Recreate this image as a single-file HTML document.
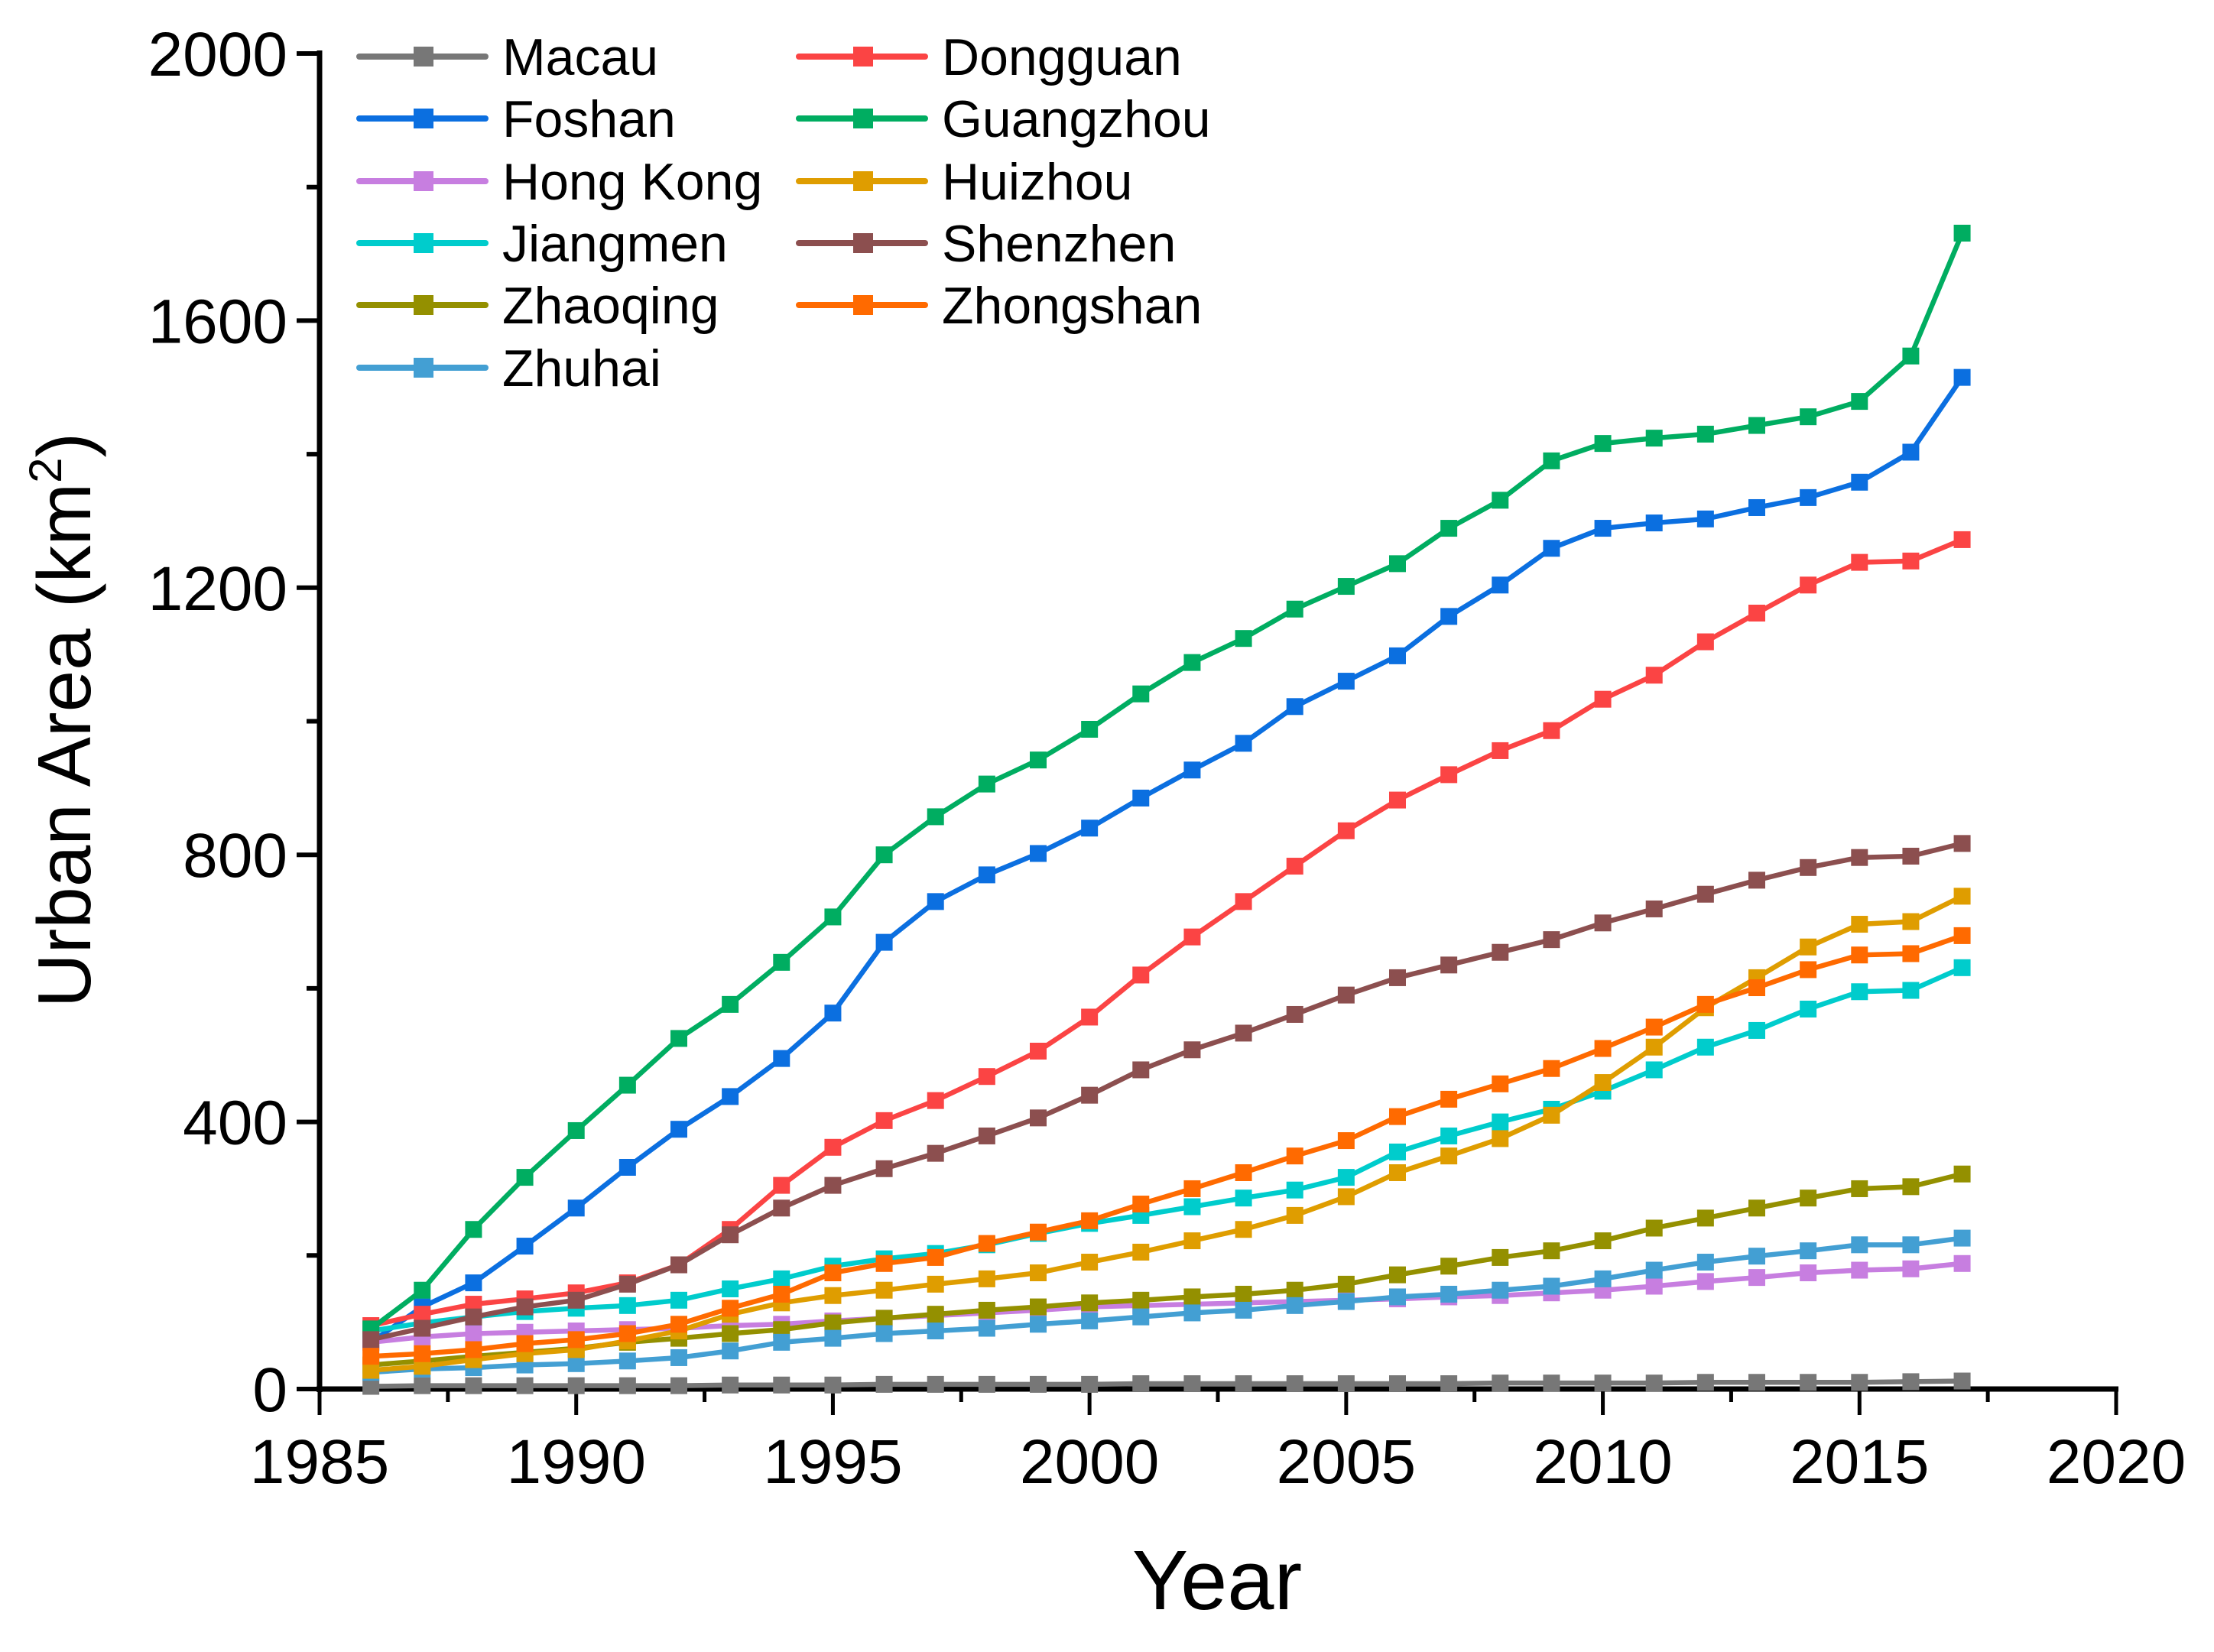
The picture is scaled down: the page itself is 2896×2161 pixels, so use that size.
<!DOCTYPE html>
<html><head><meta charset="utf-8"><style>
html,body{margin:0;padding:0;background:#fff}
svg{display:block;font-family:"Liberation Sans",Arial,sans-serif}
</style></head><body>
<svg id="chart" width="2896" height="2161" viewBox="0 0 2896 2161" xmlns="http://www.w3.org/2000/svg">
<g id="axes"></g>
<g id="series"></g>
<g id="legend"></g>
<text x="1592" y="2105" font-size="110" text-anchor="middle">Year</text>
<text transform="translate(118,942) rotate(-90)" font-size="98" text-anchor="middle">Urban Area (km<tspan font-size="60" dy="-38">2</tspan><tspan dy="38">)</tspan></text>
</svg>
<script>
const years = [1986,1987,1988,1989,1990,1991,1992,1993,1994,1995,1996,1997,1998,1999,2000,2001,2002,2003,2004,2005,2006,2007,2008,2009,2010,2011,2012,2013,2014,2015,2016,2017];
const seriesNames = ["Macau","Foshan","Hong Kong","Jiangmen","Zhaoqing","Zhuhai","Dongguan","Guangzhou","Huizhou","Shenzhen","Zhongshan"];
const seriesColors = ["#777777","#0b6fe0","#c77ee0","#00cccc","#949000","#439fd3","#fb4444","#00ad61","#df9d00","#8c4f4f","#ff6a00"];
const macau = [4,5,5,5,5,5,5,6,6,6,7,7,7,7,7,8,8,8,8,8,8,8,9,9,9,9,10,10,10,10,11,12];
const foshan = [70,123,159,214,271,332,389,438,495,563,669,730,770,802,840,885,927,967,1022,1060,1098,1157,1204,1259,1289,1297,1303,1320,1335,1358,1403,1515];
const hongKong = [70,78,83,85,87,89,91,95,97,102,106,110,114,118,123,125,127,129,131,133,135,138,140,144,148,154,161,167,174,178,180,188];
const jiangmen = [87,99,108,116,121,125,133,150,165,184,195,203,216,233,248,260,273,286,298,317,355,379,400,419,446,478,512,537,569,595,597,631];
const zhaoqing = [36,42,49,55,61,70,76,83,89,99,106,112,118,123,129,133,138,142,148,157,171,184,197,207,222,241,256,271,286,300,303,322];
const zhuhai = [25,30,32,36,38,42,47,57,70,76,83,87,91,97,102,108,114,118,125,131,138,142,148,154,165,178,190,199,207,216,216,226];
const dongguan = [95,112,127,135,144,159,186,239,305,362,402,432,468,506,557,620,677,730,783,836,882,920,956,986,1033,1069,1119,1162,1204,1238,1240,1272];
const guangzhou = [90,148,239,317,387,455,525,576,639,707,800,857,906,942,988,1041,1088,1124,1168,1202,1236,1289,1331,1390,1416,1424,1430,1443,1456,1479,1547,1731];
const huizhou = [28,34,44,53,59,72,87,112,129,140,148,157,165,174,190,205,222,239,260,288,324,349,375,410,459,512,571,616,662,696,700,738];
const shenzhen = [74,91,108,123,133,157,186,231,271,305,330,353,379,406,440,478,508,533,561,590,616,635,654,673,698,719,741,762,781,796,798,817];
const zhongshan = [49,53,59,68,74,83,97,121,142,174,188,197,218,235,252,277,300,324,349,372,408,434,457,480,510,542,576,601,628,650,652,679];
const xTicks = [1985,1990,1995,2000,2005,2010,2015,2020];
const yTicks = [0,400,800,1200,1600,2000];
const allSeries = [macau,foshan,hongKong,jiangmen,zhaoqing,zhuhai,dongguan,guangzhou,huizhou,shenzhen,zhongshan];

const NS="http://www.w3.org/2000/svg";
const X0=418,X1=2768,Y0=1817,Y1=70;
function xs(v){return X0+(v-1985)/(2020-1985)*(X1-X0);}
function ys(v){return Y0-(v-0)/(2000-0)*(Y0-Y1);}
function mk(tag,attrs,parent){const e=document.createElementNS(NS,tag);for(const k in attrs)e.setAttribute(k,attrs[k]);parent.appendChild(e);return e;}

const axes=document.getElementById('axes');
let e;
e=mk('line',{x1:X0,y1:Y1-4,x2:X0,y2:Y0+4,stroke:'#000','stroke-width':7},axes);


e=mk('line',{x1:X0-4,y1:Y0,x2:X1+3,y2:Y0,stroke:'#000','stroke-width':7},axes);


for(let v=0;v<=2000;v+=200){
  const major=v%400===0;
  e=mk('line',{x1:X0-(major?30:17),y1:ys(v),x2:X0,y2:ys(v),stroke:'#000','stroke-width':6},axes);
  
  
}
yTicks.forEach(v=>{
  e=mk('text',{x:X0-42,y:ys(v)+29,'font-size':82,'text-anchor':'end'},axes);
  e.textContent=v;
  
  
});
for(let v=1985;v<=2020;v+=2.5){
  const major=v%5===0;
  e=mk('line',{x1:xs(v),y1:Y0,x2:xs(v),y2:Y0+(major?34:17),stroke:'#000','stroke-width':5},axes);
  
  
}
xTicks.forEach(v=>{
  e=mk('text',{x:xs(v),y:1940,'font-size':82,'text-anchor':'middle'},axes);
  e.textContent=v;
  
  
});

const sg=document.getElementById('series');
allSeries.forEach((data,i)=>{
  const g=mk('g',{},sg);
  
  
  const pts=data.map((v,j)=>xs(years[j])+','+ys(v)).join(' ');
  e=mk('polyline',{points:pts,fill:'none',stroke:seriesColors[i],'stroke-width':6.5,'stroke-linejoin':'round'},g);
  
  
  data.forEach((v,j)=>{
    e=mk('rect',{x:xs(years[j])-11,y:ys(v)-11,width:22,height:22,fill:seriesColors[i]},g);
    
    
  });
});

const lg=document.getElementById('legend');
const rowsY=[74,155,237,318,399,481];
seriesNames.forEach((n,i)=>{
  const col=i<6?0:1, row=i<6?i:i-6;
  const lx=col===0?470:1045, y=rowsY[row];
  const g=mk('g',{},lg);
  
  
  mk('line',{x1:lx,y1:y,x2:lx+165,y2:y,stroke:seriesColors[i],'stroke-width':8,'stroke-linecap':'round'},g);
  mk('rect',{x:lx+71,y:y-13,width:26,height:26,fill:seriesColors[i]},g);
  const t=mk('text',{x:lx+187,y:y+24,'font-size':68},g);
  t.textContent=n;
});
</script>
</body></html>
